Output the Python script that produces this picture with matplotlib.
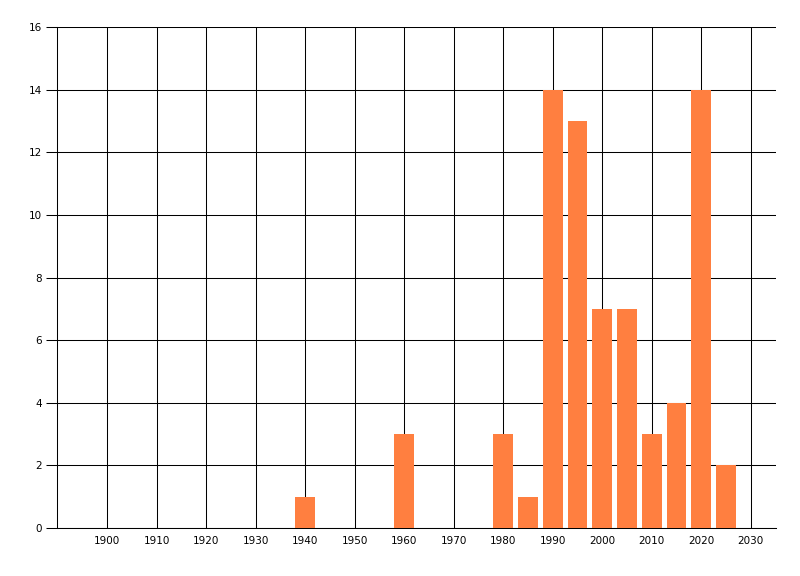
import matplotlib
matplotlib.use("Agg")
import matplotlib.pyplot as plt
import numpy as np

years = [1940, 1960, 1980, 1985, 1990, 1995, 2000, 2005, 2010, 2015, 2020, 2025]
counts = [1, 3, 3, 1, 14, 13, 7, 7, 3, 4, 14, 2]
xticks = list(range(1900, 2031, 10))
yticks = list(range(0, 17, 2))

fig = plt.figure(figsize=(8, 5.76), dpi=100)
ax = fig.add_axes([57.5/800, 1 - 528/576, (775.5-57.5)/800, (528-27)/576])

ax.bar(years, counts, width=4, color="#FF7F40", zorder=3)

ax.set_xlim(1890, 2035)
ax.set_ylim(0, 16)
ax.set_xticks(xticks)
ax.set_yticks(yticks)
ax.grid(True, color="black", linewidth=0.75, zorder=1)
ax.set_axisbelow(True)

for s in ["top", "right"]:
    ax.spines[s].set_visible(False)
ax.spines["left"].set_linewidth(0.75)
ax.spines["bottom"].set_linewidth(0.75)
ax.tick_params(axis="y", length=8, width=0.75, pad=3, labelsize=7.5)
ax.tick_params(axis="x", length=0, pad=6, labelsize=7.5)

fig.savefig("out.png", dpi=100)
